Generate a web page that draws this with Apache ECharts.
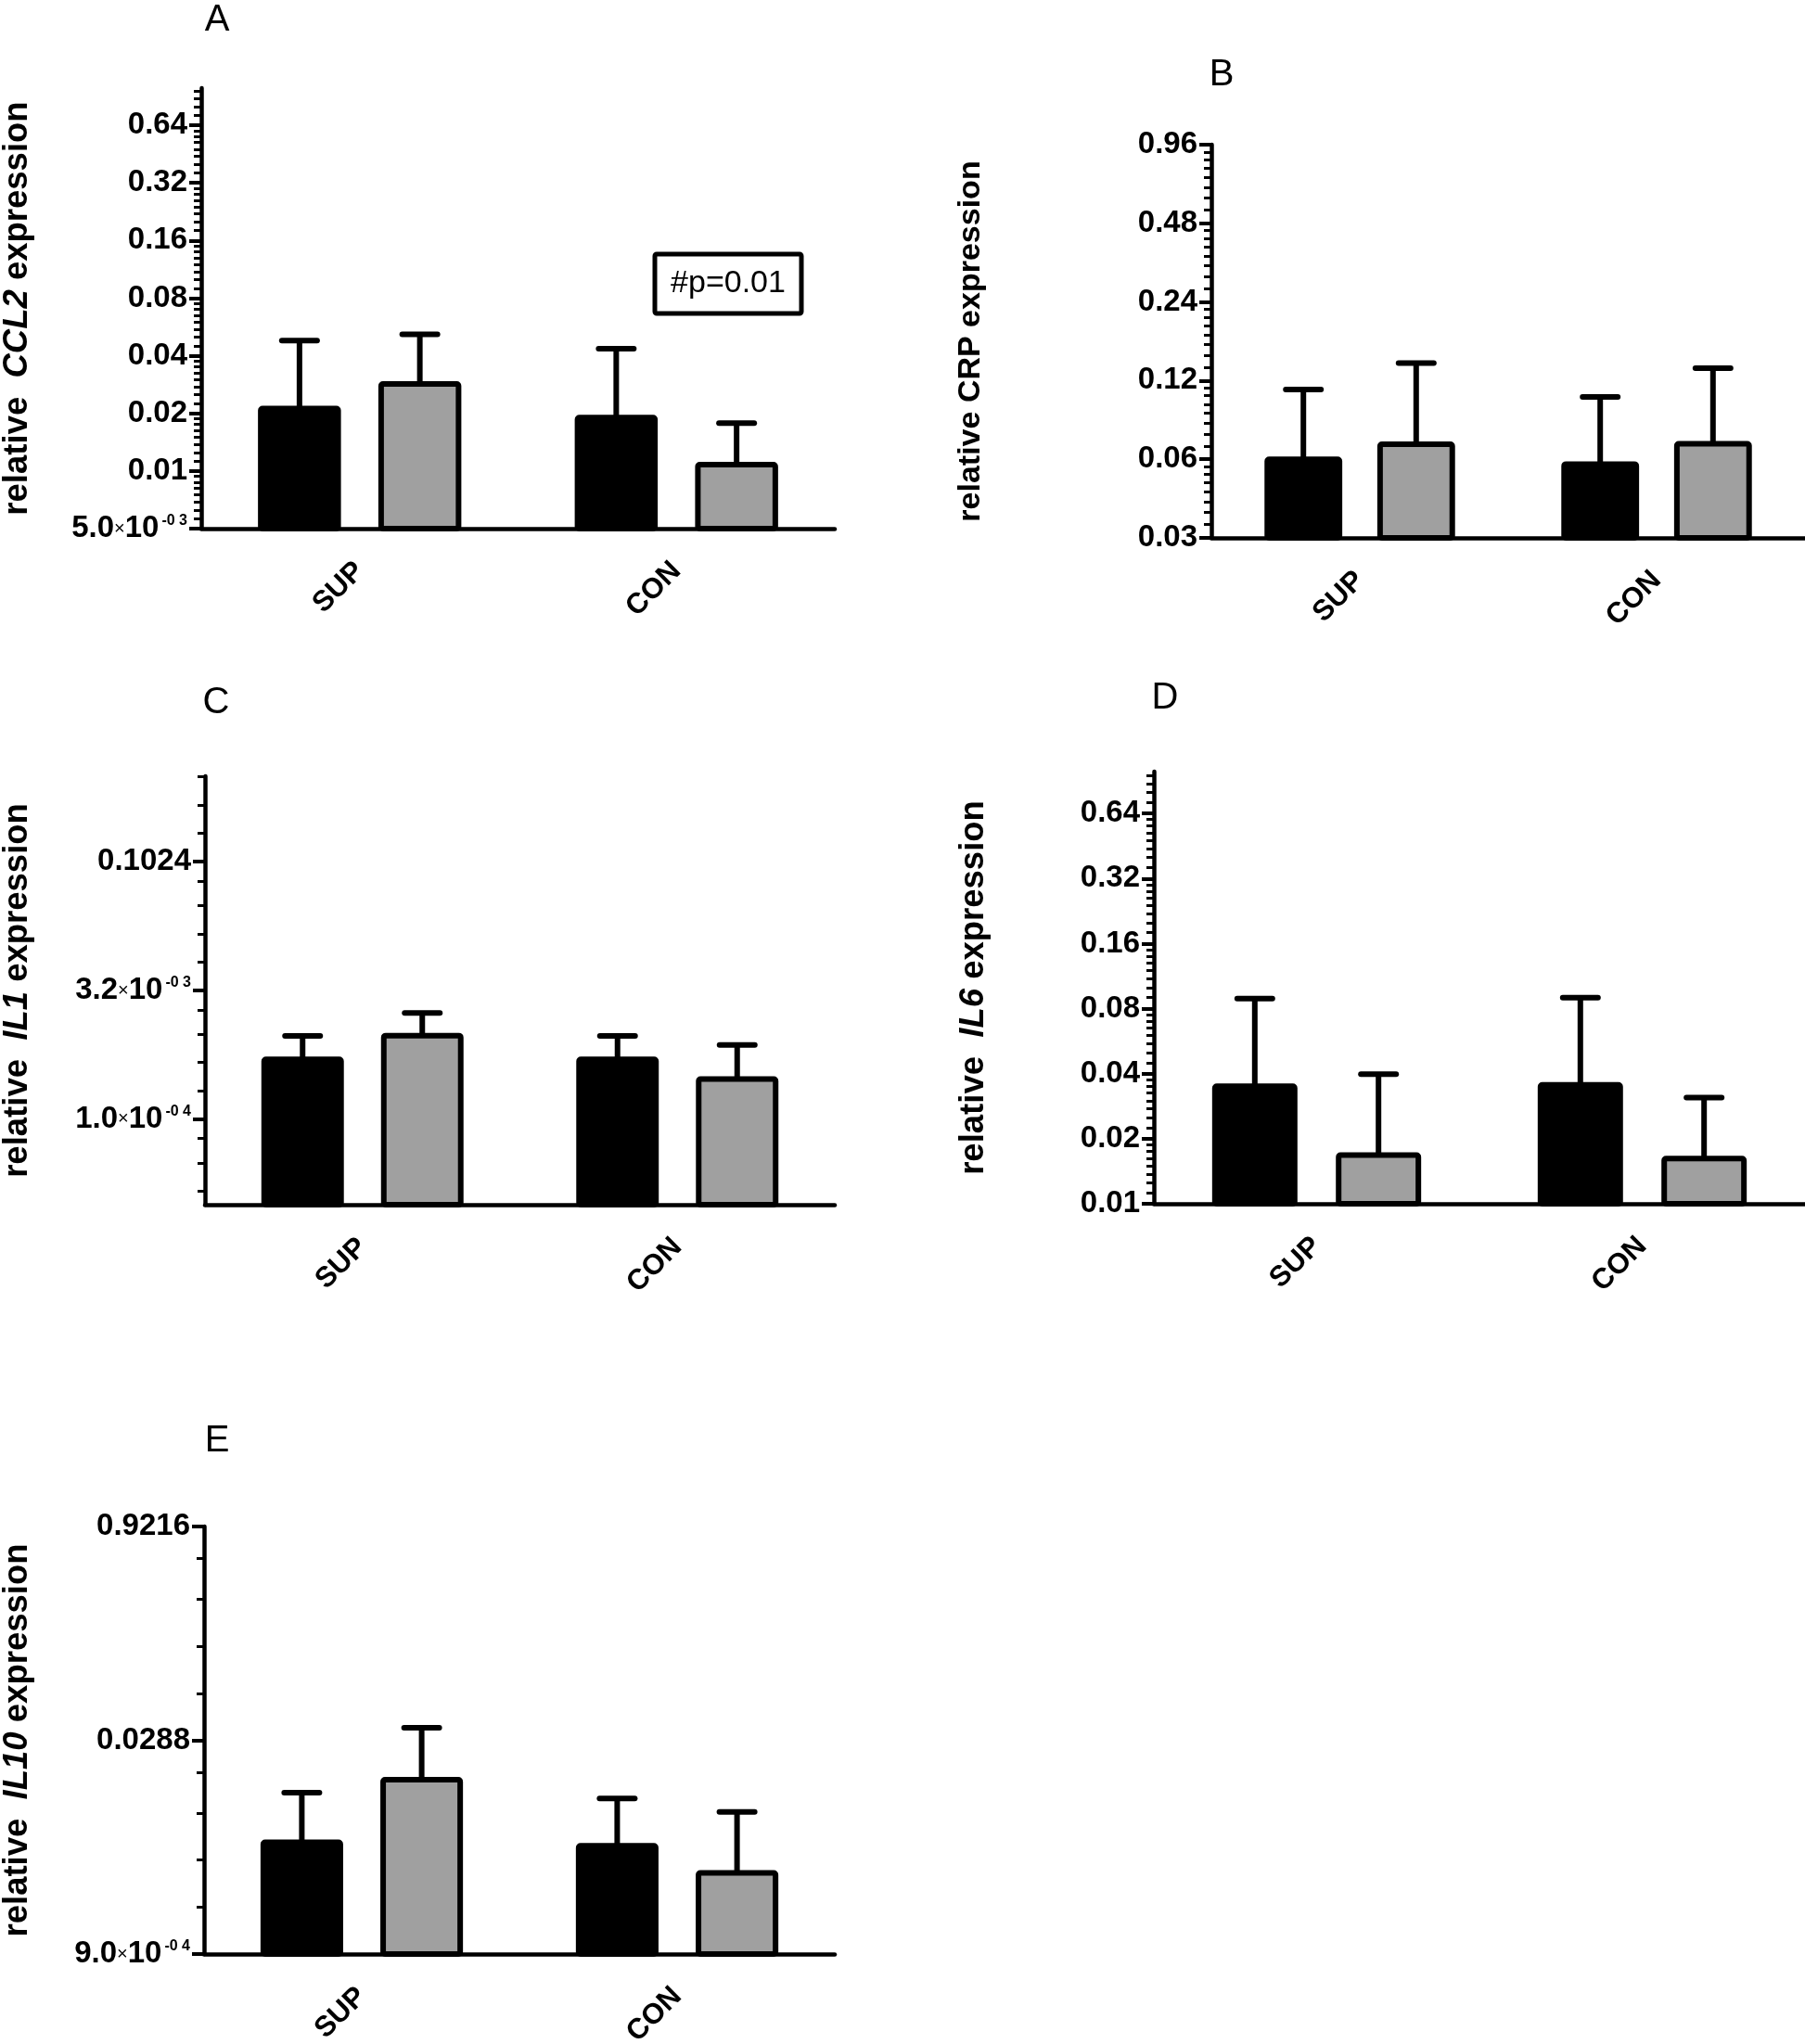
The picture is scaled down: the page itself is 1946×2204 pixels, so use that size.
<!DOCTYPE html>
<html><head><meta charset="utf-8">
<script src="https://cdn.jsdelivr.net/npm/echarts@6/dist/echarts.min.js"></script>
<style>html,body{margin:0;padding:0;background:#fff}#c{width:1946px;height:2204px}</style>
</head><body><div id="c"></div>
<script>
const categories = ['SUP', 'CON'];

// Panel A – CCL2
const ccl2Black = [0.0212, 0.0190];
const ccl2BlackUpper = [0.0480, 0.0435];
const ccl2Gray = [0.0285, 0.0108];
const ccl2GrayUpper = [0.0517, 0.0178];
const ccl2Ticks = [0.005, 0.01, 0.02, 0.04, 0.08, 0.16, 0.32, 0.64];
const ccl2TickLabels = ['5.0×10^-0 3', '0.01', '0.02', '0.04', '0.08', '0.16', '0.32', '0.64'];

// Panel B – CRP
const crpBlack = [0.060, 0.0575];
const crpBlackUpper = [0.111, 0.104];
const crpGray = [0.0685, 0.0688];
const crpGrayUpper = [0.140, 0.134];
const crpTicks = [0.03, 0.06, 0.12, 0.24, 0.48, 0.96];
const crpTickLabels = ['0.03', '0.06', '0.12', '0.24', '0.48', '0.96'];

// Panel C – IL1
const il1Black = [0.00050, 0.00050];
const il1BlackUpper = [0.00094, 0.00094];
const il1Gray = [0.00095, 0.000295];
const il1GrayUpper = [0.00175, 0.00074];
const il1Ticks = [0.0001, 0.0032, 0.1024];
const il1TickLabels = ['1.0×10^-0 4', '3.2×10^-0 3', '0.1024'];

// Panel D – IL6
const il6Black = [0.0350, 0.0355];
const il6BlackUpper = [0.089, 0.090];
const il6Gray = [0.0168, 0.0162];
const il6GrayUpper = [0.0398, 0.0310];
const il6Ticks = [0.01, 0.02, 0.04, 0.08, 0.16, 0.32, 0.64];
const il6TickLabels = ['0.01', '0.02', '0.04', '0.08', '0.16', '0.32', '0.64'];

// Panel E – IL10
const il10Black = [0.00550, 0.00520];
const il10BlackUpper = [0.0123, 0.0112];
const il10Gray = [0.0152, 0.00335];
const il10GrayUpper = [0.0353, 0.0090];
const il10Ticks = [0.0009, 0.0288, 0.9216];
const il10TickLabels = ['9.0×10^-0 4', '0.0288', '0.9216'];

// minor-tick placement (in doublings above each lower major) for the x32 axes
const wideMinorSteps = [1.1, 2.2, 3.3, 4.25];

const FONT = '"Liberation Sans", Arial, Helvetica, sans-serif';
const GRAY = '#a0a0a0';
const TICK_FS = 33;

function linearMinors(start, max) {
  const out = [];
  for (let v = start; v < max; v *= 2) {
    for (let j = 1; j < 8; j++) { const t = v * (1 + j / 8); if (t < max * 0.999) out.push(t); }
  }
  return out;
}
function wideMinors(lowMajors, min, max) {
  const out = [];
  lowMajors.forEach(L => wideMinorSteps.forEach(d => {
    const t = L * Math.pow(2, d);
    if (t > min * 1.001 && t < max * 0.99) out.push(t);
  }));
  return out;
}
function tickFormatter(ticks, labels) {
  return function (value) {
    let best = 0, bd = Infinity;
    for (let k = 0; k < ticks.length; k++) {
      const d = Math.abs(Math.log(value) - Math.log(ticks[k]));
      if (d < bd) { bd = d; best = k; }
    }
    const lab = labels[best];
    if (lab.indexOf('^') >= 0) {
      const parts = lab.split('^');
      const mant = parts[0].split('×');
      return '{m|' + mant[0] + '}{x|×}{m|' + mant[1] + '}{s|' + parts[1] + '}';
    }
    return '{m|' + lab + '}';
  };
}

const panels = [
  { black: ccl2Black, blackUp: ccl2BlackUpper, gray: ccl2Gray, grayUp: ccl2GrayUpper,
    ticks: ccl2Ticks, labels: ccl2TickLabels, min: 0.005, max: 1.0,
    minors: linearMinors(0.005, 1.0),
    name: '{n|relative  }{i|CCL2}{n| expression}', nameSize: 36.5,
    grid: { left: 217, top: 95, width: 683, height: 475 }, nameGap: 180 },
  { black: crpBlack, blackUp: crpBlackUpper, gray: crpGray, grayUp: crpGrayUpper,
    ticks: crpTicks, labels: crpTickLabels, min: 0.03, max: 0.96,
    minors: linearMinors(0.03, 0.96),
    name: '{n|relative CRP expression}', nameSize: 34,
    grid: { left: 1306, top: 156, width: 640, height: 424 }, nameGap: 242 },
  { black: il1Black, blackUp: il1BlackUpper, gray: il1Gray, grayUp: il1GrayUpper,
    ticks: il1Ticks, labels: il1TickLabels, min: 0.00001, max: 1.024,
    minors: wideMinors([0.0001 / 32, 0.0001, 0.0032, 0.1024], 0.00001, 1.024),
    name: '{n|relative  }{i|IL1}{n| expression}', nameSize: 36.5,
    grid: { left: 221, top: 837, width: 679, height: 462 }, nameGap: 184 },
  { black: il6Black, blackUp: il6BlackUpper, gray: il6Gray, grayUp: il6GrayUpper,
    ticks: il6Ticks, labels: il6TickLabels, min: 0.01, max: 1.0,
    minors: linearMinors(0.01, 1.0),
    name: '{n|relative  }{i|IL6}{n| expression}', nameSize: 36.5,
    grid: { left: 1244, top: 832, width: 702, height: 466 }, nameGap: 176 },
  { black: il10Black, blackUp: il10BlackUpper, gray: il10Gray, grayUp: il10GrayUpper,
    ticks: il10Ticks, labels: il10TickLabels, min: 0.0009, max: 0.9216,
    minors: wideMinors([0.0009, 0.0288], 0.0009, 0.9216),
    name: '{n|relative  }{i|IL10}{n| expression}', nameSize: 36.5,
    grid: { left: 220, top: 1646, width: 680, height: 461 }, nameGap: 183 }
];

function makeRender(yMin, color) {
  return function (params, api) {
    const i = api.value(0), v = api.value(1), up = api.value(2), side = api.value(3);
    const band = api.coord([1, v])[0] - api.coord([0, v])[0];
    const top = api.coord([i, v]);
    const base = api.coord([i, yMin]);
    const upPt = api.coord([i, up]);
    const cx = top[0] + side * band * 0.19;
    const bw = 6;
    const w = band * 0.262 - bw;
    const capHalf = 19;
    return {
      type: 'group',
      children: [
        { type: 'line', shape: { x1: cx, y1: top[1], x2: cx, y2: upPt[1] },
          style: { stroke: '#000', lineWidth: 6 } },
        { type: 'line', shape: { x1: cx - capHalf, y1: upPt[1], x2: cx + capHalf, y2: upPt[1] },
          style: { stroke: '#000', lineWidth: 6, lineCap: 'round' } },
        { type: 'rect', shape: { x: cx - w / 2, y: top[1], width: w, height: base[1] - top[1], r: 2 },
          style: { fill: color, stroke: '#000', lineWidth: bw, lineJoin: 'round' } }
      ]
    };
  };
}

const grids = [], xAxes = [], yAxes = [], series = [];
panels.forEach((p, gi) => {
  grids.push(Object.assign({ outerBoundsMode: 'none', containLabel: false }, p.grid));
  xAxes.push({
    type: 'category', gridIndex: gi, data: categories,
    axisLine: { onZero: false, lineStyle: { color: '#000', width: 4.5 } },
    axisTick: { alignWithLabel: true, length: 13, lineStyle: { color: '#000', width: 4 } },
    axisLabel: { rotate: 45, margin: 41, color: '#000', fontFamily: FONT, fontWeight: 'bold', fontSize: 31 },
    splitLine: { show: false }
  });
  yAxes.push({
    type: 'log', logBase: 2, gridIndex: gi, min: p.min, max: p.max, position: 'left',
    axisLine: { show: true, lineStyle: { color: '#000', width: 4.5 } },
    axisTick: { show: true, length: 13, lineStyle: { color: '#000', width: 4 }, customValues: p.ticks },
    axisLabel: {
      customValues: p.ticks, formatter: tickFormatter(p.ticks, p.labels), margin: 15, color: '#000',
      rich: {
        m: { fontFamily: FONT, fontWeight: 'bold', fontSize: TICK_FS, color: '#000' },
        x: { fontFamily: FONT, fontWeight: 'normal', fontSize: 20, color: '#000' },
        s: { fontFamily: FONT, fontWeight: 'bold', fontSize: 16, color: '#000', verticalAlign: 'top', padding: [0, 0, 0, 3] }
      }
    },
    splitLine: { show: false }, minorTick: { show: false },
    name: p.name, nameLocation: 'middle', nameRotate: 90, nameGap: p.nameGap,
    nameTextStyle: {
      color: '#000',
      rich: {
        n: { fontFamily: FONT, fontWeight: 'bold', fontSize: p.nameSize, color: '#000' },
        i: { fontFamily: FONT, fontWeight: 'bold', fontStyle: 'italic', fontSize: p.nameSize, color: '#000' }
      }
    }
  });
  yAxes.push({
    type: 'log', logBase: 2, gridIndex: gi, min: p.min, max: p.max, position: 'left', offset: 0,
    axisLine: { show: false },
    axisTick: { show: true, length: 8, lineStyle: { color: '#000', width: 3 }, customValues: p.minors },
    axisLabel: { show: false },
    splitLine: { show: false }, minorTick: { show: false }
  });
  const blackData = categories.map((c, k) => [k, p.black[k], p.blackUp[k], -1]);
  const grayData = categories.map((c, k) => [k, p.gray[k], p.grayUp[k], 1]);
  series.push({ type: 'custom', xAxisIndex: gi, yAxisIndex: gi * 2, data: blackData,
    encode: { x: 0, y: 1 }, renderItem: makeRender(p.min, '#000'), clip: false, z: 3 });
  series.push({ type: 'custom', xAxisIndex: gi, yAxisIndex: gi * 2, data: grayData,
    encode: { x: 0, y: 1 }, renderItem: makeRender(p.min, GRAY), clip: false, z: 3 });
});

const letter = (t, x, y) => ({ type: 'text', x: x, y: y,
  style: { text: t, fontFamily: FONT, fontSize: 40, fill: '#000', align: 'center', verticalAlign: 'middle' } });

const chart = echarts.init(document.getElementById('c'), null, { renderer: 'canvas' });
chart.setOption({
  animation: false,
  backgroundColor: '#fff',
  grid: grids, xAxis: xAxes, yAxis: yAxes, series: series,
  graphic: [
    letter('A', 234, 22), letter('B', 1317, 81), letter('C', 233, 758),
    letter('D', 1256, 753), letter('E', 234, 1554),
    { type: 'rect', shape: { x: 706, y: 274, width: 158, height: 64, r: 2 },
      style: { fill: '#fff', stroke: '#000', lineWidth: 5 }, z: 10 },
    { type: 'text', x: 785, y: 306, z: 11,
      style: { text: '#p=0.01', fontFamily: FONT, fontSize: 34, fill: '#000', align: 'center', verticalAlign: 'middle' } }
  ]
});
</script></body></html>
